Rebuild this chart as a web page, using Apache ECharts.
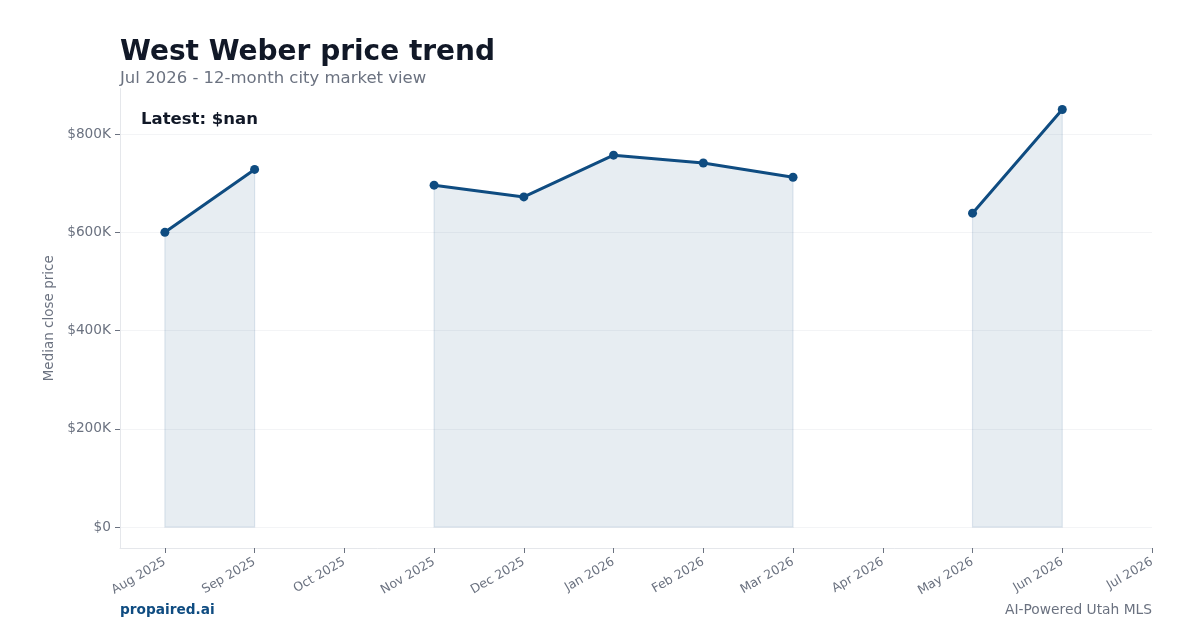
<!DOCTYPE html>
<html>
<head>
    <meta charset="UTF-8">
    <title>West Weber price trend</title>
    <script src="https://cdn.jsdelivr.net/npm/echarts@6.0.0/dist/echarts.min.js"></script>
    <style>
        html, body { margin: 0; padding: 0; background: #ffffff; }
        #chart { width: 1200px; height: 630px; }
    </style>
</head>
<body>
<div id="chart"></div>
<script type="text/javascript">
    // months shown on the x axis
    var months = ['Aug 2025', 'Sep 2025', 'Oct 2025', 'Nov 2025', 'Dec 2025', 'Jan 2026',
        'Feb 2026', 'Mar 2026', 'Apr 2026', 'May 2026', 'Jun 2026', 'Jul 2026'];
    // median close price, null where no sales
    var prices = [600000, 728000, null, 696000, 672000, 757000, 741000, 712000, null, 639000, 850000, null];
    var yTicks = [0, 200000, 400000, 600000, 800000];
    var xTicks = [0, 1, 2, 3, 4, 5, 6, 7, 8, 9, 10, 11];

    var font = '"DejaVu Sans", sans-serif';
    var lineColor = '#0f4c81';

    // contiguous runs of values for the shaded area
    var segments = [];
    var start = null;
    for (var i = 0; i <= prices.length; i++) {
        var v = i < prices.length ? prices[i] : null;
        if (v !== null && start === null) start = i;
        if (v === null && start !== null) { segments.push([start, i - 1]); start = null; }
    }

    var lineData = prices.map(function (p, i) { return [i, p === null ? '-' : p]; });

    var chart = echarts.init(document.getElementById('chart'));
    var option = {
        animation: false,
        textStyle: { fontFamily: font },
        title: [
            { text: 'West Weber price trend', left: 120, top: 39, padding: 0,
              textStyle: { fontSize: 28, fontWeight: 'bold', color: '#111827', fontFamily: font } },
            { text: 'Jul 2026 - 12-month city market view', left: 120, top: 70, padding: 0,
              textStyle: { fontSize: 16.5, fontWeight: 'normal', color: '#6b7280', fontFamily: font } }
        ],
        graphic: [
            { type: 'text', left: 141, top: 111,
              style: { text: 'Latest: $nan', font: 'bold 16.5px ' + font, fill: '#111827' } },
            { type: 'text', left: 120, top: 603,
              style: { text: 'propaired.ai', font: 'bold 13.7px ' + font, fill: lineColor } },
            { type: 'text', right: 48, top: 603,
              style: { text: 'AI-Powered Utah MLS', font: '13.8px ' + font, fill: '#6b7280' } }
        ],
        grid: { left: 120, right: 48, top: 88.6, bottom: 82, containLabel: false },
        xAxis: {
            type: 'value',
            min: -0.5,
            max: 11,
            axisLine: { show: true, onZero: false, lineStyle: { color: '#e5e7eb' } },
            axisTick: { show: true, customValues: xTicks, length: 5, lineStyle: { color: '#6b7280' } },
            axisLabel: {
                customValues: xTicks,
                rotate: 30,
                margin: 13,
                fontSize: 12.5,
                color: '#6b7280',
                fontFamily: font,
                formatter: function (v) { return months[v]; }
            },
            splitLine: { show: false }
        },
        yAxis: {
            type: 'value',
            min: -42500,
            max: 892500,
            name: 'Median close price',
            nameLocation: 'middle',
            nameGap: 59,
            nameTextStyle: { fontSize: 13.5, color: '#6b7280', fontFamily: font },
            axisLine: { show: true, onZero: false, lineStyle: { color: '#e5e7eb' } },
            axisTick: { show: true, customValues: yTicks, length: 5, lineStyle: { color: '#6b7280' } },
            axisLabel: {
                customValues: yTicks,
                margin: 9,
                fontSize: 13.7,
                color: '#6b7280',
                fontFamily: font,
                formatter: function (v) { return v === 0 ? '$0' : '$' + (v / 1000) + 'K'; }
            },
            splitLine: { show: true, lineStyle: { color: '#f3f4f6', width: 1 } }
        },
        series: [
            {
                type: 'custom',
                silent: true,
                data: segments,
                renderItem: function (params, api) {
                    var s = api.value(0), e = api.value(1);
                    var pts = [];
                    for (var k = s; k <= e; k++) pts.push(api.coord([k, prices[k]]));
                    pts.push(api.coord([e, 0]));
                    pts.push(api.coord([s, 0]));
                    return {
                        type: 'polygon',
                        shape: { points: pts },
                        style: { fill: 'rgba(15,76,129,0.1)', stroke: 'rgba(15,76,129,0.12)', lineWidth: 1.2 }
                    };
                },
                z: 1
            },
            {
                type: 'line',
                data: lineData,
                connectNulls: false,
                symbol: 'circle',
                symbolSize: 9,
                showSymbol: true,
                lineStyle: { color: lineColor, width: 3 },
                itemStyle: { color: lineColor },
                z: 3
            }
        ]
    };
    chart.setOption(option);
</script>
</body>
</html>
